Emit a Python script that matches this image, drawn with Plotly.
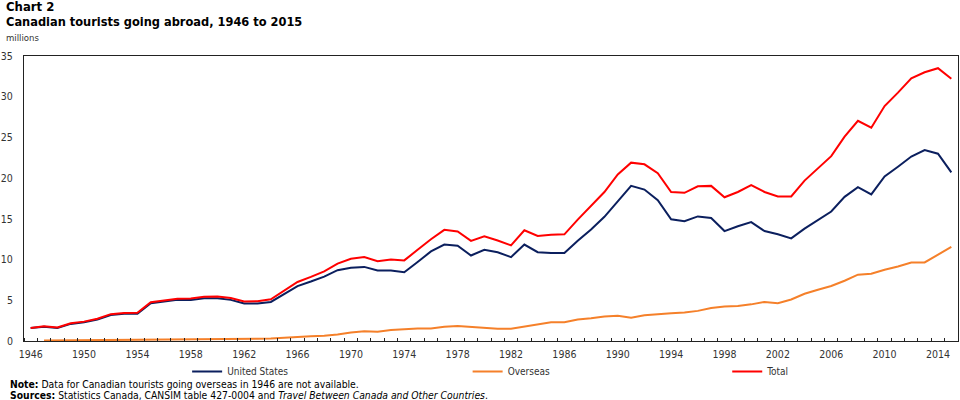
import plotly.graph_objects as go

years = list(range(1946, 2016))

united_states = [1.6, 1.75, 1.6, 2.1, 2.3, 2.65, 3.2, 3.35, 3.35, 4.65,
                 4.85, 5.05, 5.05, 5.25, 5.25, 5.05, 4.6, 4.6, 4.8, 5.8,
                 6.75, 7.3, 7.9, 8.7, 9.0, 9.1, 8.65, 8.65, 8.45, 9.7,
                 11.0, 11.85, 11.7, 10.5, 11.2, 10.9, 10.3, 11.85, 10.9, 10.8,
                 10.8, 12.3, 13.7, 15.25, 17.2, 19.05, 18.6, 17.3, 14.95, 14.7,
                 15.3, 15.1, 13.5, 14.1, 14.6, 13.5, 13.1, 12.6, 13.8, 14.85,
                 15.9, 17.7, 18.9, 18.0, 20.2, 21.4, 22.65, 23.45, 23.0, 20.7]

overseas = [None, 0.05, 0.06, 0.07, 0.08, 0.09, 0.1, 0.1, 0.11, 0.12,
            0.13, 0.15, 0.16, 0.18, 0.2, 0.22, 0.25, 0.28, 0.32, 0.38,
            0.5, 0.57, 0.65, 0.8, 1.05, 1.2, 1.15, 1.35, 1.45, 1.55,
            1.55, 1.75, 1.85, 1.75, 1.6, 1.5, 1.5, 1.75, 2.05, 2.3,
            2.3, 2.65, 2.8, 3.0, 3.1, 2.85, 3.15, 3.3, 3.4, 3.5,
            3.7, 4.05, 4.25, 4.3, 4.5, 4.8, 4.65, 5.1, 5.8, 6.3,
            6.75, 7.4, 8.15, 8.25, 8.75, 9.15, 9.65, 9.65, 10.6, 11.55]

total = [1.6, 1.8, 1.66, 2.17, 2.38, 2.74, 3.3, 3.45, 3.46, 4.77,
         4.98, 5.2, 5.21, 5.43, 5.45, 5.27, 4.85, 4.88, 5.12, 6.18,
         7.25, 7.87, 8.55, 9.5, 10.1, 10.3, 9.8, 10.0, 9.9, 11.2,
         12.5, 13.65, 13.45, 12.3, 12.85, 12.35, 11.75, 13.6, 12.9, 13.05,
         13.1, 14.9, 16.55, 18.3, 20.45, 21.9, 21.7, 20.6, 18.3, 18.2,
         19.0, 19.05, 17.65, 18.3, 19.15, 18.3, 17.75, 17.75, 19.7, 21.15,
         22.7, 25.1, 27.05, 26.2, 28.85, 30.5, 32.25, 33.0, 33.5, 32.2]

series_names = ["United States", "Overseas", "Total"]
series_colors = ["#0b1f5e", "#f5802a", "#ff0000"]
y_ticks = [0, 5, 10, 15, 20, 25, 30, 35]
x_tick_years = list(range(1946, 2016, 4))

FONT = "DejaVu Sans Condensed, Liberation Sans Narrow, DejaVu Sans, Verdana, sans-serif"

L, R, T, B = 20, 1, 56, 59
W, H = 960, 400
pw, ph = W - L - R, H - T - B

def px(x):
    return (x - L) / pw

def py(y):
    return (H - B - y) / ph

legend_ids = ["legend", "legend2", "legend3"]
legend_x = [184, 466, 727]

fig = go.Figure()
for name, vals, col, lid in zip(series_names, [united_states, overseas, total], series_colors, legend_ids):
    fig.add_trace(go.Scatter(x=years, y=vals, mode="lines", name=name, legend=lid,
                             line=dict(color=col, width=2), connectgaps=False))

legend_common = dict(orientation="h", yanchor="middle", xanchor="left", itemwidth=30,
                     font=dict(size=10, color="#333333", family=FONT),
                     bgcolor="rgba(0,0,0,0)", borderwidth=0)

layout_legends = {}
for lid, lx in zip(legend_ids, legend_x):
    layout_legends[lid] = dict(legend_common, x=px(lx), y=py(371.5))

fig.update_layout(
    width=W, height=H,
    margin=dict(l=L, r=R, t=T, b=B),
    paper_bgcolor="white", plot_bgcolor="white",
    font=dict(family=FONT, size=10, color="#333333"),
    showlegend=True,
    xaxis=dict(range=[1945.5, 2015.5], tickmode="array", tickvals=x_tick_years,
               ticktext=[str(v) for v in x_tick_years], ticks="", showgrid=False,
               showline=True, linecolor="#222222", linewidth=1, mirror=True,
               zeroline=False, tickfont=dict(size=10.5, color="#333333"),
               ticklabelstandoff=3,
               minor=dict(tick0=1945.5, dtick=1, ticks="inside", ticklen=3,
                          tickcolor="#222222", showgrid=False)),
    yaxis=dict(range=[0, 35], tickmode="array", tickvals=y_ticks, ticks="",
               showgrid=False, showline=True, linecolor="#222222", linewidth=1,
               mirror=True, zeroline=False, tickfont=dict(size=10.5, color="#333333"),
               ticklabelstandoff=8),
    **layout_legends,
)

annots = [
    dict(text="<b>Chart 2</b>", x=px(0), y=py(7), size=13, color="#000000"),
    dict(text="<b>Canadian tourists going abroad, 1946 to 2015</b>", x=px(0), y=py(21), size=12.7, color="#000000"),
    dict(text="millions", x=px(0), y=py(37), size=9.5, color="#333333"),
    dict(text="<b>Note:</b> Data for Canadian tourists going overseas in 1946 are not available.",
         x=px(4), y=py(383.5), size=10.3, color="#000000"),
    dict(text="<b>Sources:</b> Statistics Canada, CANSIM table 427-0004 and <i>Travel Between Canada and Other Countries</i>.",
         x=px(4), y=py(395), size=10.3, color="#000000"),
]
for a in annots:
    fig.add_annotation(text=a["text"], x=a["x"], y=a["y"], xref="paper", yref="paper",
                       xanchor="left", yanchor="middle", showarrow=False,
                       font=dict(size=a["size"], color=a["color"], family=FONT))

fig.write_html("out.html")
